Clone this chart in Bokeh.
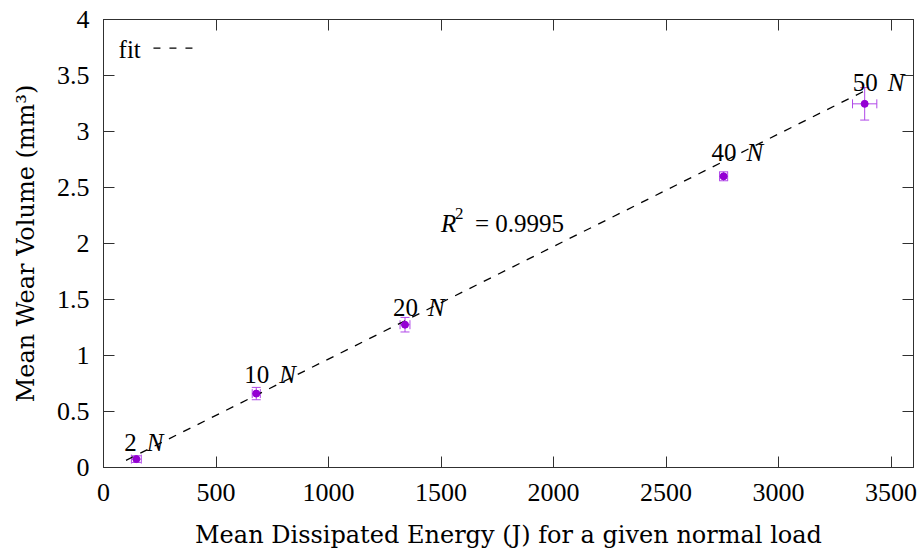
from bokeh.plotting import figure
from bokeh.models import (Range1d, LinearAxis, Whisker, TeeHead, ColumnDataSource,
                          FixedTicker)
from bokeh.core.properties import value
from bokeh.embed import file_html
from bokeh.resources import INLINE

# ---- data ----
loads = ["2", "10", "20", "40", "50"]
energy = [146, 679, 1340, 2756, 3383]
energy_err = [22, 18, 22, 18, 54]
wear = [0.075, 0.66, 1.275, 2.60, 3.247]
wear_err = [0.03, 0.055, 0.065, 0.04, 0.145]
fit_x = [100, 3400]
fit_y = [0.064, 3.38]
r_squared = "0.9995"
x_ticks = [0, 500, 1000, 1500, 2000, 2500, 3000, 3500]
x_tick_labels = ["0", "500", "1000", "1500", "2000", "2500", "3000", "3500"]
y_ticks = [0, 0.5, 1, 1.5, 2, 2.5, 3, 3.5, 4]
y_tick_labels = ["0", "0.5", "1", "1.5", "2", "2.5", "3", "3.5", "4"]

# ---- style ----
FONT = "Liberation Serif"
LABEL_FONT = "DejaVu Serif"
FS = "25px"
TICK_FS = "26px"
LABEL_FS = "24px"
PT_COLOR = "#9400D3"
ERR_COLOR = "#B048E8"
AX_COLOR = "#303030"
label_dy = [-17, -19, -17, -24, -21]

p = figure(width=920, height=558, x_range=Range1d(0, 3600), y_range=Range1d(0, 4),
           output_backend="svg", toolbar_location=None,
           min_border_left=103, min_border_right=7, min_border_top=19, min_border_bottom=91)
p.grid.visible = False
p.outline_line_color = AX_COLOR
p.outline_line_width = 1
p.background_fill_color = "white"
p.border_fill_color = "white"

xax = p.below[0]
yax = p.left[0]
xax.axis_label = "Mean Dissipated Energy (J) for a given normal load"
yax.axis_label = "Mean Wear Volume (mm\u00b3)"
xax.ticker = FixedTicker(ticks=x_ticks)
yax.ticker = FixedTicker(ticks=y_ticks)
xax.major_label_overrides = dict(zip(x_ticks, x_tick_labels))
yax.major_label_overrides = dict(zip(y_ticks, y_tick_labels))

extra_right = LinearAxis(ticker=FixedTicker(ticks=y_ticks))
extra_top = LinearAxis(ticker=FixedTicker(ticks=x_ticks))
p.add_layout(extra_right, "right")
p.add_layout(extra_top, "above")

for ax in [xax, yax, extra_right, extra_top]:
    ax.major_tick_in = 11
    ax.major_tick_out = 0
    ax.minor_tick_line_color = None
    ax.axis_line_color = AX_COLOR
    ax.major_tick_line_color = AX_COLOR
    ax.major_label_text_font = FONT
    ax.major_label_text_font_size = TICK_FS
    ax.major_label_text_color = "black"
    ax.axis_label_text_font = LABEL_FONT
    ax.axis_label_text_font_size = LABEL_FS
    ax.axis_label_text_font_style = "normal"
    ax.axis_label_text_color = "black"

for ax in [extra_right, extra_top]:
    ax.major_label_text_font_size = "0px"
    ax.major_label_text_color = None
    ax.major_label_standoff = 0

xax.major_label_standoff = 16
xax.axis_label_standoff = 17
yax.major_label_standoff = 14
yax.axis_label_standoff = 14

src = ColumnDataSource(dict(
    energy=energy, wear=wear, load=loads,
    e_lo=[e - d for e, d in zip(energy, energy_err)],
    e_hi=[e + d for e, d in zip(energy, energy_err)],
    w_lo=[w - d for w, d in zip(wear, wear_err)],
    w_hi=[w + d for w, d in zip(wear, wear_err)],
    n=["N"] * len(loads),
    dy=label_dy,
    nx=[-12 + 12.5 * len(s) + 10 for s in loads],
))

# fit line
p.line(fit_x, fit_y, line_color="black", line_width=1.3, line_dash="8 8")

# error bars
p.add_layout(Whisker(source=src, base="energy", lower="w_lo", upper="w_hi", dimension="height",
                     line_color=ERR_COLOR, line_width=1,
                     lower_head=TeeHead(size=9, line_color=ERR_COLOR, line_width=1),
                     upper_head=TeeHead(size=9, line_color=ERR_COLOR, line_width=1)))
p.add_layout(Whisker(source=src, base="wear", lower="e_lo", upper="e_hi", dimension="width",
                     line_color=ERR_COLOR, line_width=1,
                     lower_head=TeeHead(size=9, line_color=ERR_COLOR, line_width=1),
                     upper_head=TeeHead(size=9, line_color=ERR_COLOR, line_width=1)))

p.scatter("energy", "wear", source=src, size=7, fill_color=PT_COLOR, line_color=PT_COLOR)

# load labels: number upright, N italic
p.text("energy", "wear", text="load", source=src, x_offset=-12, y_offset="dy",
       text_font=value(FONT), text_font_size=value(FS), text_color="black",
       text_baseline="alphabetic", text_align="left")
p.text("energy", "wear", text="n", source=src, x_offset="nx", y_offset="dy",
       text_font=value(FONT), text_font_size=value(FS), text_font_style="italic",
       text_color="black", text_baseline="alphabetic", text_align="left")

# R^2 annotation
r_x, r_y = 1500, 2.18
p.text([r_x], [r_y], text=["R"], text_font=value(FONT), text_font_size=value(FS),
       text_font_style="italic", text_color="black", text_baseline="alphabetic")
p.text([r_x], [r_y], text=["2"], x_offset=14, y_offset=-10, text_font=value(FONT),
       text_font_size=value("17px"), text_color="black", text_baseline="alphabetic")
p.text([r_x], [r_y], text=["= " + r_squared], x_offset=34, text_font=value(FONT),
       text_font_size=value(FS), text_color="black", text_baseline="alphabetic")

# legend "fit - - -"
lg_x, lg_y = 67, 3.73
p.text([lg_x], [lg_y], text=["fit"], text_font=value(FONT), text_font_size=value(FS),
       text_color="black", text_baseline="middle")
p.line([222, 400], [3.745, 3.745], line_color="black", line_width=1.3, line_dash="7 9")

open("out.html", "w").write(file_html(p, INLINE))
